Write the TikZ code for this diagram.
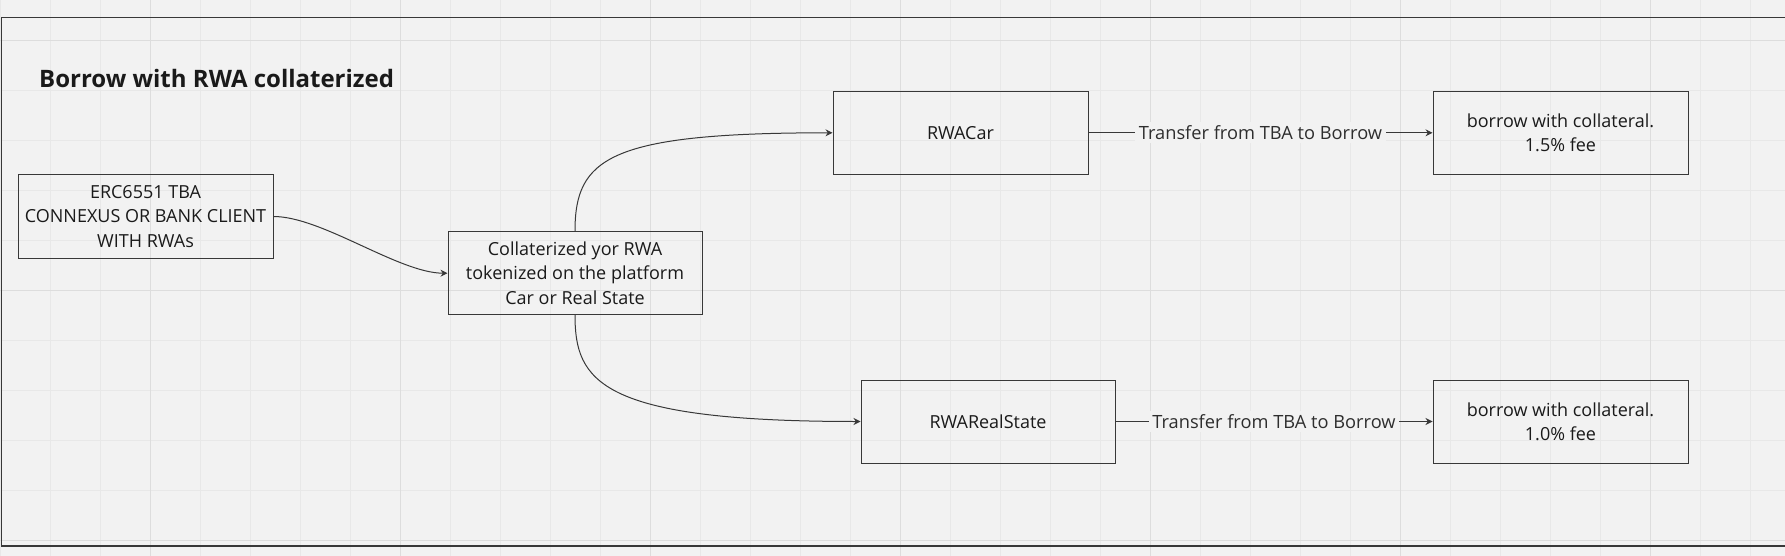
\documentclass[tikz,border=0pt]{standalone}
\usepackage{fontspec}
\setmainfont{Open Sans}
\usetikzlibrary{arrows.meta}
\definecolor{bg}{HTML}{F2F2F2}
\definecolor{gridc}{HTML}{E8E8E8}
\definecolor{gridm}{HTML}{DDDDDD}
\definecolor{linec}{HTML}{383838}
\definecolor{txt}{HTML}{1A1A1A}
\definecolor{lbltxt}{HTML}{2E2E2E}
\begin{document}
\begin{tikzpicture}[x=1pt,y=-1pt,
  box/.style={draw=linec, line width=1pt, minimum width=254pt, minimum height=83pt,
    inner sep=0pt, align=center, text=txt, font=\fontsize{18}{24.3}\selectfont},
  conn/.style={draw=linec, line width=1pt, -{Stealth[length=7pt,width=7pt]}},
  lbl/.style={fill=bg, text=lbltxt, inner sep=3.5pt, font=\fontsize{18.25}{22}\selectfont}]
\fill[bg] (0,0) rectangle (1785,556);
\useasboundingbox (0,0) rectangle (1785,556);
% grid
\foreach \i in {0,...,35} \draw[gridc, line width=1pt] ({0.7+50*\i},0) -- ({0.7+50*\i},556);
\foreach \i in {0,...,10} \draw[gridc, line width=1pt] (0,{40.7+50*\i}) -- (1785,{40.7+50*\i});
\foreach \x in {150.7,400.7,650.7,900.7,1150.7,1400.7,1650.7} \draw[gridm, line width=1pt] (\x,0) -- (\x,556);
\foreach \y in {40.7,290.7,540.7} \draw[gridm, line width=1pt] (0,\y) -- (1785,\y);
% frame
\draw[linec, line width=1.3pt] (1.7,17.3) rectangle (1800,546);
% title
\node[anchor=base west, inner sep=0pt, text=txt, font=\fontsize{24}{28}\selectfont\bfseries] (title) at (39,87.3) {Borrow with RWA collaterized};
% nodes
\node[box, minimum width=255pt] (erc) at (145.5,216.5) {ERC6551 TBA\\CONNEXUS OR BANK CLIENT\\WITH RWAs};
\node[box] (col) at (575,273.2) {Collaterized yor RWA\\tokenized on the platform\\Car or Real State};
\node[box, minimum width=255pt] (car) at (960.5,132.8) {RWACar};
\node[box] (rs) at (988,421.5) {RWARealState};
\node[box, minimum width=255pt] (b1) at (1560.5,132.8) {borrow with collateral.\\1.5\% fee};
\node[box, minimum width=255pt] (b2) at (1560.5,421.5) {borrow with collateral.\\1.0\% fee};
% connectors
\draw[conn] (erc.east) .. controls +(48.5,0) and +(-48.5,0) .. (col.west);
\draw[conn] (col.north) .. controls +(0,-73) and +(-224,0) .. (car.west);
\draw[conn] (col.south) .. controls +(0,66) and +(-261,0) .. (rs.west);
\draw[conn] (car.east) -- node[lbl] (l1) {Transfer from TBA to Borrow} (b1.west);
\draw[conn] (rs.east) -- node[lbl] (l2) {Transfer from TBA to Borrow} (b2.west);
\end{tikzpicture}
\end{document}
